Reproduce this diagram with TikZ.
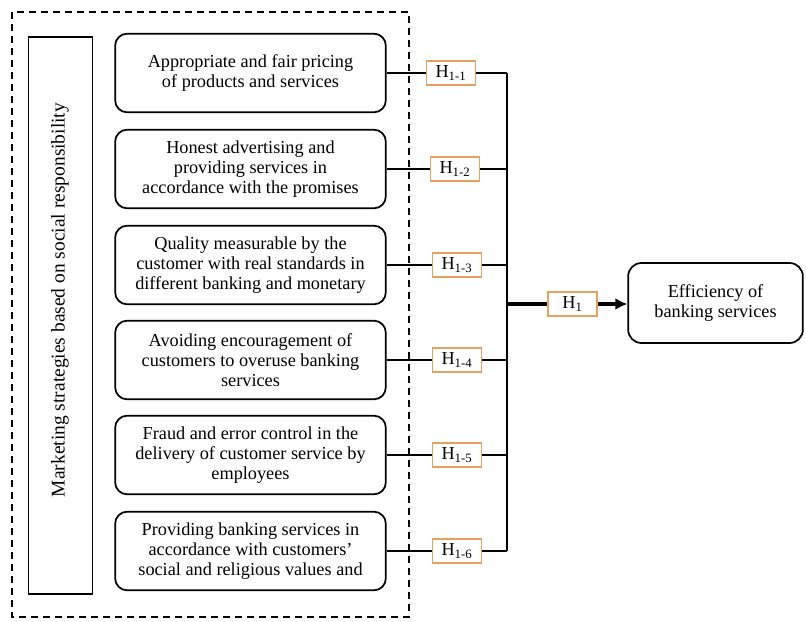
\documentclass[tikz,border=0pt]{standalone}
\usepackage{fontspec}
\setmainfont{Liberation Serif}
\usepackage{xcolor}
\usepackage{tikz}
\usetikzlibrary{positioning,arrows.meta}

\definecolor{hypedge}{HTML}{E8A060}

\tikzset{
    factorbox/.style={rectangle, draw, line width=1.3pt, rounded corners=9pt, minimum width=203pt, minimum height=59pt, align=center, inner sep=2pt},
    hyplabel/.style={rectangle, draw=hypedge, line width=1.2pt, fill=white, minimum width=37pt, minimum height=18pt, inner sep=1pt},
    link/.style={line width=1.1pt}
}

\begin{document}
\begin{tikzpicture}[x=0.75pt, y=-0.75pt, font=\fontsize{13.7}{15.2}\selectfont]
    \useasboundingbox (0,0) rectangle (806,621);

    % outer dashed frame
    \draw[line width=1.2pt, dash pattern=on 5.5pt off 3.5pt] (12,12) rectangle (409,617);

    % left block
    \node(strategy) [rectangle, draw, line width=1.3pt, minimum width=48pt, minimum height=418pt] at (60.5,315.5) {};
    \node(strategytext) [rotate=90, font=\fontsize{14.6}{16}\selectfont] at (60,300) {Marketing strategies based on social responsibility};

    % factors
    \node(f1) [factorbox] at (250.5,73)  {Appropriate and fair pricing\\of products and services};
    \node(f2) [factorbox] at (250.5,169) {Honest advertising and\\providing services in\\accordance with the promises};
    \node(f3) [factorbox] at (250.5,265) {Quality measurable by the\\customer with real standards in\\different banking and monetary};
    \node(f4) [factorbox] at (250.5,360) {Avoiding encouragement of\\customers to overuse banking\\services};
    \node(f5) [factorbox] at (250.5,455) {Fraud and error control in the\\delivery of customer service by\\employees};
    \node(f6) [factorbox] at (250.5,551) {Providing banking services in\\accordance with customers'\\social and religious values and};

    % hypotheses
    \node(h1) [hyplabel] at (451,73)  {H\textsubscript{1-1}};
    \node(h2) [hyplabel] at (455,169) {H\textsubscript{1-2}};
    \node(h3) [hyplabel] at (457,265) {H\textsubscript{1-3}};
    \node(h4) [hyplabel] at (457,360) {H\textsubscript{1-4}};
    \node(h5) [hyplabel] at (457,455) {H\textsubscript{1-5}};
    \node(h6) [hyplabel] at (457,551) {H\textsubscript{1-6}};

    \coordinate(bustop) at (507,73);
    \coordinate(busbot) at (507,551);
    \coordinate(busmid) at (507,304);

    \foreach \i in {1,...,6} {
        \draw[link] (f\i.east) -- (h\i.west);
        \draw[link] (h\i.east) -- (h\i.east -| bustop);
    }
    \draw[line width=1.6pt] (bustop) -- (busbot);

    % outcome
    \node(eff) [rectangle, draw, line width=1.3pt, rounded corners=10pt, minimum width=131pt, minimum height=60pt, align=center] at (715.5,303) {Efficiency of\\banking services};
    \node(hmain) [hyplabel] at (572.5,304) {H\textsubscript{1}};

    \draw[line width=2.6pt] (busmid) -- (hmain.west);
    \draw[line width=2.6pt, -{Latex[length=9pt,width=9pt]}] (hmain.east) -- (hmain.east -| eff.west);
\end{tikzpicture}
\end{document}
